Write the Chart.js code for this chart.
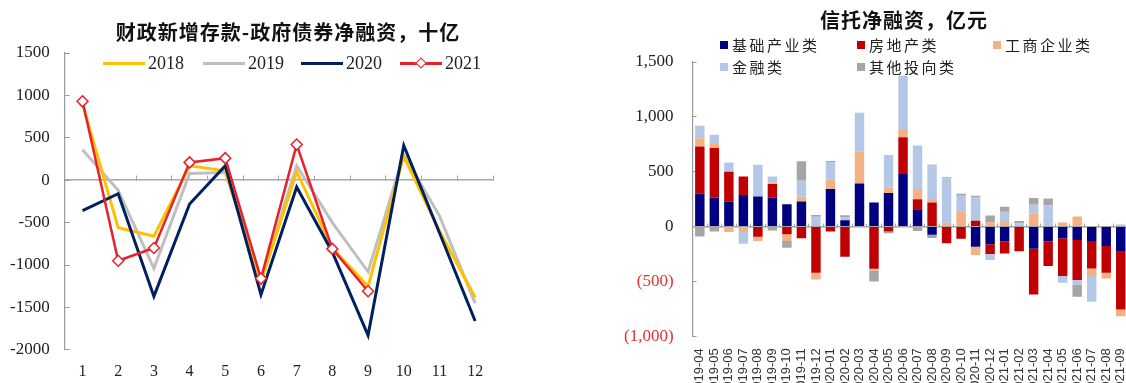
<!DOCTYPE html>
<html>
<head>
<meta charset="utf-8">
<script src="https://cdn.jsdelivr.net/npm/chart.js@4.4.1/dist/chart.umd.min.js"></script>
<style>
  html, body { margin: 0; padding: 0; background: #fff; }
  body { width: 1126px; height: 383px; overflow: hidden; position: relative; }
  #left { position: absolute; left: -10px; top: 0; }
  #right { position: absolute; left: 600px; top: 0; }
  .ttl { position: absolute; font: bold 20px "Noto Sans CJK SC", sans-serif; color: #111; letter-spacing: 1px;
         line-height: 24px; text-align: center; white-space: nowrap; }
  .lgL { position: absolute; font: 18px "Liberation Serif", serif; color: #222; line-height: 18px; white-space: nowrap; }
  .lgL i { display: inline-block; position: relative; width: 42px; height: 3px; vertical-align: middle; margin-right: 3px; margin-top: -2px; }
  .lgL i b { position: absolute; left: 17px; top: -3.5px; width: 6px; height: 6px; background: #fff; border: 1.5px solid #E8212A; transform: rotate(45deg); }
  .lgR { position: absolute; font: 15px "Noto Sans CJK SC", sans-serif; color: #222; letter-spacing: 2.5px; line-height: 18px; white-space: nowrap; }
  .lgR i { display: inline-block; width: 8px; height: 8px; margin-right: 4px; vertical-align: middle; margin-top: -3px; }
</style>
</head>
<body>
<canvas id="left" width="586" height="400"></canvas>
<canvas id="right" width="600" height="420"></canvas>

<div class="ttl" style="left:88px;top:20px;width:400px">财政新增存款-政府债券净融资，十亿</div>
<div class="ttl" style="left:704px;top:8px;width:400px">信托净融资，亿元</div>

<div class="lgL" style="left:103px;top:54px"><i style="background:#FFC000"></i>2018</div>
<div class="lgL" style="left:203px;top:54px"><i style="background:#BFBFBF"></i>2019</div>
<div class="lgL" style="left:301px;top:54px"><i style="background:#002060"></i>2020</div>
<div class="lgL" style="left:400px;top:54px"><i style="background:#E8212A"><b></b></i>2021</div>

<div class="lgR" style="left:720px;top:36px"><i style="background:#000080"></i>基础产业类</div>
<div class="lgR" style="left:857px;top:36px"><i style="background:#C00000"></i>房地产类</div>
<div class="lgR" style="left:993px;top:36px"><i style="background:#F4B183"></i>工商企业类</div>
<div class="lgR" style="left:720px;top:58px"><i style="background:#B4C7E7"></i>金融类</div>
<div class="lgR" style="left:857px;top:58px"><i style="background:#A5A5A5"></i>其他投向类</div>

<script>
// left chart: 财政新增存款-政府债券净融资
const months = ['1', '2', '3', '4', '5', '6', '7', '8', '9', '10', '11', '12'];
const y2018 = [900, -560, -660, 170, 110, -1200, 100, -800, -1250, 280, -600, -1380];
const y2019 = [360, -120, -1040, 80, 90, -1180, 170, -500, -1080, 300, -420, -1450];
const y2020 = [-360, -160, -1370, -280, 170, -1350, -80, -850, -1830, 410, -620, -1660];
const y2021 = [930, -950, -800, 210, 260, -1160, 420, -810, -1310, null, null, null];

// right chart: 信托净融资, 亿元
const trustMonths = [
  '2019-04', '2019-05', '2019-06', '2019-07', '2019-08', '2019-09', '2019-10', '2019-11', '2019-12',
  '2020-01', '2020-02', '2020-03', '2020-04', '2020-05', '2020-06', '2020-07', '2020-08', '2020-09',
  '2020-10', '2020-11', '2020-12', '2021-01', '2021-02', '2021-03', '2021-04', '2021-05', '2021-06',
  '2021-07', '2021-08', '2021-09'
];
const infra      = [300, 265, 229, 287, 275, 265, 204, 229, 0, 342, 58, 393, 220, 305, 479, 159, -75, 0, 0, -185, -160, -135, -10, -201, -137, -107, -122, -131, -177, -229];
const realEstate = [430, 452, 271, 170, -92, 122, -70, -107, -421, -46, -275, 0, -385, -45, 335, 91, 220, -152, -110, 52, -90, -110, -215, -418, -223, -344, -366, -250, -244, -527];
const commerce   = [75, 36, -50, -49, -40, 15, -61, 42, -61, 85, 0, 290, -15, 52, 67, 92, 31, 35, 140, -75, 40, 50, 0, 120, 0, 37, 92, -70, -52, -61];
const finance    = [115, 83, 85, -107, 289, 55, 0, 147, 90, 159, 24, 354, 0, 296, 493, 396, 314, 405, 140, 213, -55, 85, 30, 80, 195, -61, -40, -235, 0, 20];
const others     = [-90, -46, 0, 0, 0, -35, -61, 177, 15, 12, 22, 0, -100, -15, 0, -40, -30, 10, 20, 15, 60, 45, 20, 60, 61, 0, -112, 0, 0, 0];

const serif = '"Liberation Serif", "Times New Roman", serif';

function lineSet(label, data, color, order) {
  return { label, data, borderColor: color, backgroundColor: color, borderWidth: 3,
           pointRadius: 0, tension: 0, order };
}

const s2021 = lineSet('2021', y2021, '#E8212A', 0);
s2021.borderWidth = 2.5;
s2021.pointStyle = 'rectRot';
s2021.pointRadius = 5.5;
s2021.pointBackgroundColor = '#fff';
s2021.pointBorderColor = '#E8212A';
s2021.pointBorderWidth = 1.5;

new Chart(document.getElementById('left'), {
  type: 'line',
  data: {
    labels: months,
    datasets: [
      lineSet('2018', y2018, '#FFC000', 2),
      lineSet('2019', y2019, '#BFBFBF', 3),
      lineSet('2020', y2020, '#002060', 1),
      s2021
    ]
  },
  options: {
    responsive: false,
    animation: false,
    layout: { padding: { left: 0, right: 83, top: 53, bottom: 7 } },
    plugins: {
      legend: { display: false },
      tooltip: { enabled: false }
    },
    scales: {
      x: {
        offset: true,
        grid: { display: false, drawTicks: false },
        border: { display: false },
        ticks: { color: '#222', font: { family: serif, size: 16 }, padding: 12 }
      },
      xz: {
        axis: 'x',
        type: 'category',
        position: { y: 0 },
        offset: true,
        grid: { offset: true, drawOnChartArea: false, tickLength: -5, color: '#A6A6A6' },
        border: { color: '#A6A6A6', width: 1.5 },
        ticks: { display: false }
      },
      y: {
        min: -2000,
        max: 1500,
        grid: { drawOnChartArea: false, tickLength: -5, color: '#999' },
        border: { color: '#999', width: 1.2 },
        ticks: {
          stepSize: 500,
          padding: 20,
          color: '#222',
          font: { family: serif, size: 17 },
          callback: v => String(v)
        }
      }
    }
  }
});

function barSet(label, data, color) {
  return { label, data, backgroundColor: color, borderWidth: 0,
           barPercentage: 0.65, categoryPercentage: 1 };
}

new Chart(document.getElementById('right'), {
  type: 'bar',
  data: {
    labels: trustMonths,
    datasets: [
      barSet('基础产业类', infra, '#000080'),
      barSet('房地产类', realEstate, '#C00000'),
      barSet('工商企业类', commerce, '#F4B183'),
      barSet('金融类', finance, '#B4C7E7'),
      barSet('其他投向类', others, '#A5A5A5')
    ]
  },
  options: {
    responsive: false,
    animation: false,
    layout: { padding: { left: 1, right: 72, top: 62, bottom: 12 } },
    plugins: {
      legend: { display: false },
      tooltip: { enabled: false }
    },
    scales: {
      x: {
        stacked: true,
        grid: { display: false, drawTicks: false },
        border: { display: false },
        ticks: {
          autoSkip: false,
          minRotation: 90,
          maxRotation: 90,
          padding: 12,
          color: '#333',
          font: { family: '"Liberation Sans", Arial, sans-serif', size: 13 }
        }
      },
      xz: {
        axis: 'x',
        type: 'category',
        position: { y: 0 },
        offset: true,
        grid: { offset: true, drawOnChartArea: false, tickLength: -4, color: '#A6A6A6' },
        border: { color: '#A6A6A6', width: 1.5 },
        ticks: { display: false }
      },
      y: {
        stacked: true,
        min: -1000,
        max: 1500,
        grid: { drawOnChartArea: false, tickLength: -4, color: '#999' },
        border: { color: '#999', width: 1.2 },
        ticks: {
          stepSize: 500,
          padding: 23,
          font: { family: serif, size: 17 },
          color: ctx => ctx.tick.value < 0 ? '#E03030' : '#222',
          callback: v => v < 0 ? '(' + Math.abs(v).toLocaleString('en-US') + ')' : v.toLocaleString('en-US')
        }
      }
    }
  }
});
</script>
</body>
</html>
